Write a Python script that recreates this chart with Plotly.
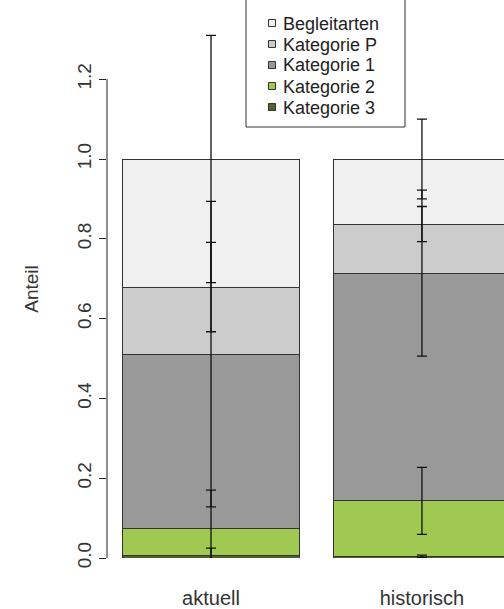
import plotly.graph_objects as go

# ---- data ----
categories = ["aktuell", "historisch"]
series_names = ["Kategorie 3", "Kategorie 2", "Kategorie 1", "Kategorie P", "Begleitarten"]  # bottom -> top
kat3 = [0.007, 0.004]
kat2 = [0.066, 0.139]
kat1 = [0.438, 0.571]
katP = [0.168, 0.123]
begleit = [0.321, 0.163]
err_kat3 = [0.018, 0.003]
err_kat2 = [0.097, 0.084]
err_kat1 = [0.383, 0.208]
err_katP = [0.112, 0.044]
err_begleit = [0.31, 0.10]
y_tick_vals = [0.0, 0.2, 0.4, 0.6, 0.8, 1.0, 1.2]
y_tick_text = ["0.0", "0.2", "0.4", "0.6", "0.8", "1.0", "1.2"]

values = [kat3, kat2, kat1, katP, begleit]
errors = [err_kat3, err_kat2, err_kat1, err_katP, err_begleit]
colors = ["#4f6229", "#a0c952", "#999999", "#cccccc", "#f0f0f0"]

FONT = "Liberation Sans, Arial, sans-serif"
TXT = "#333333"

# plot-area geometry (px) used to place the R-style legend box
W, H = 504, 609
ML, MR, MT, MB = 107, 0, 20, 51
PW, PH = W - ML - MR, H - MT - MB


def px_x(px):
    return (px - ML) / PW


def px_y(py):
    return (H - MB - py) / PH


fig = go.Figure()

# stacked bars
for name, vals, col in zip(series_names, values, colors):
    fig.add_trace(go.Bar(
        x=categories, y=vals, name=name,
        marker=dict(color=col, line=dict(color="#333333", width=1)),
        showlegend=False, hoverinfo="x+y+name",
    ))

# error bars at the cumulative top of each segment (drawn on top of all bars)
ex, ey, ee = [], [], []
for ci, cat in enumerate(categories):
    cum = 0.0
    for vals, errs in zip(values, errors):
        cum += vals[ci]
        ex.append(cat)
        ey.append(cum)
        ee.append(errs[ci])
fig.add_trace(go.Scatter(
    x=ex, y=ey, mode="markers", marker=dict(size=1, color="rgba(0,0,0,0)"),
    error_y=dict(type="data", array=ee, visible=True, color="#111111", thickness=1.3, width=5),
    showlegend=False, hoverinfo="skip",
))

# R-style legend box (top -> bottom)
fig.add_shape(type="rect", xref="paper", yref="paper",
              x0=px_x(246), x1=px_x(405), y0=px_y(127), y1=px_y(-2),
              line=dict(color="#333333", width=1), fillcolor="white", layer="above")
row_y = [23.0, 44.0, 65.0, 86.0, 107.0]
for ry, name, col in zip(row_y, series_names[::-1], colors[::-1]):
    fig.add_shape(type="rect", xref="paper", yref="paper",
                  x0=px_x(268.5), x1=px_x(275.5), y0=px_y(ry + 3.5), y1=px_y(ry - 3.5),
                  line=dict(color="#333333", width=1), fillcolor=col, layer="above")
    fig.add_annotation(xref="paper", yref="paper", x=px_x(282), y=px_y(ry + 0.5),
                       text=name, showarrow=False, xanchor="left", yanchor="middle",
                       borderpad=0, height=20,
                       font=dict(family=FONT, size=18, color="#222222"))

# y axis line only from 0 to 1.2 (R style)
fig.add_shape(type="line", xref="paper", yref="y", x0=0, x1=0, y0=0, y1=1.2,
              line=dict(color="#222222", width=1))

fig.update_layout(
    width=W, height=H,
    margin=dict(l=ML, r=MR, t=MT, b=MB),
    paper_bgcolor="white", plot_bgcolor="white",
    barmode="stack", bargap=0.161,
    font=dict(family=FONT, size=19, color=TXT),
    showlegend=False,
    xaxis=dict(
        range=[-0.493, 1.389], showgrid=False, zeroline=False, showline=False,
        ticks="", tickfont=dict(family=FONT, size=20, color=TXT), ticklabelstandoff=26,
    ),
    yaxis=dict(
        range=[0, (H - MT - MB) / 399.0], showgrid=False, zeroline=False, showline=False,
        tickmode="array", tickvals=y_tick_vals, ticktext=y_tick_text,
        ticks="outside", ticklen=7, tickwidth=1, tickcolor="#222222",
        tickangle=-90, tickfont=dict(family=FONT, size=19, color=TXT),
        title=dict(text="Anteil", font=dict(family=FONT, size=19, color=TXT), standoff=30),
    ),
)

fig.write_html("out.html", config={"displayModeBar": False},
               post_script="document.body.style.margin='0';")
